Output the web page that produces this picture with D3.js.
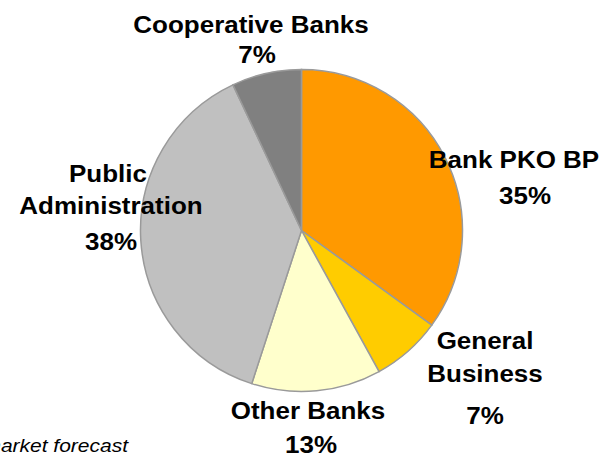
<!DOCTYPE html>
<html>
<head>
<meta charset="utf-8">
<script src="https://cdn.jsdelivr.net/npm/d3@7"></script>
<style>
  body { margin: 0; background: #fff; }
  svg { display: block; }
  text { font-family: Arial, "Liberation Sans", sans-serif; fill: #000; }
</style>
</head>
<body>
<svg id="chart" width="604" height="457"></svg>
<script>
// slices, clockwise from 12 o'clock
const categories = ["Bank PKO BP", "General Business", "Other Banks", "Public Administration", "Cooperative Banks"];
const values = [35, 7, 13, 38, 7];
const colors = ["#FF9900", "#FFCC00", "#FFFFCC", "#C0C0C0", "#808080"];
const footnote = "market forecast";

// label lines + where each line sits (manual layout, like the original)
const labelLines = [
  [["Bank PKO BP", 514, 168], ["35%", 525, 204]],
  [["General", 485, 349], ["Business", 485, 382], ["7%", 485, 424]],
  [["Other Banks", 308, 419], ["13%", 311, 453]],
  [["Public", 108, 182], ["Administration", 111, 214], ["38%", 111, 250]],
  [["Cooperative Banks", 251, 33], ["7%", 257, 63]]
];

const cx = 301.5, cy = 230.5, radius = 161;
const stretch = 1.13; // the original text renders a bit wide

const svg = d3.select('#chart');

const pie = d3.pie().sort(null).value(d => d);
const arc = d3.arc().innerRadius(0).outerRadius(radius);

const g = svg.append('g').attr('transform', `translate(${cx},${cy})`);

g.selectAll('path')
  .data(pie(values))
  .enter()
  .append('path')
  .attr('d', arc)
  .style('fill', (d, i) => colors[i])
  .style('stroke', '#9a9a9a')
  .style('stroke-width', 1.5);

const labels = svg.append('g');
labelLines.forEach((lines, i) => {
  lines.forEach(([txt, x, y]) => {
    labels.append('text')
      .attr('transform', `translate(${x},${y}) scale(${stretch},1)`)
      .style('text-anchor', 'middle')
      .style('font-weight', 'bold')
      .style('font-size', '23px')
      .text(txt);
  });
});

svg.append('text')
  .attr('transform', `translate(128,452) scale(1.2,1)`)
  .style('text-anchor', 'end')
  .style('font-style', 'italic')
  .style('font-size', '17.5px')
  .text(footnote);
</script>
</body>
</html>
